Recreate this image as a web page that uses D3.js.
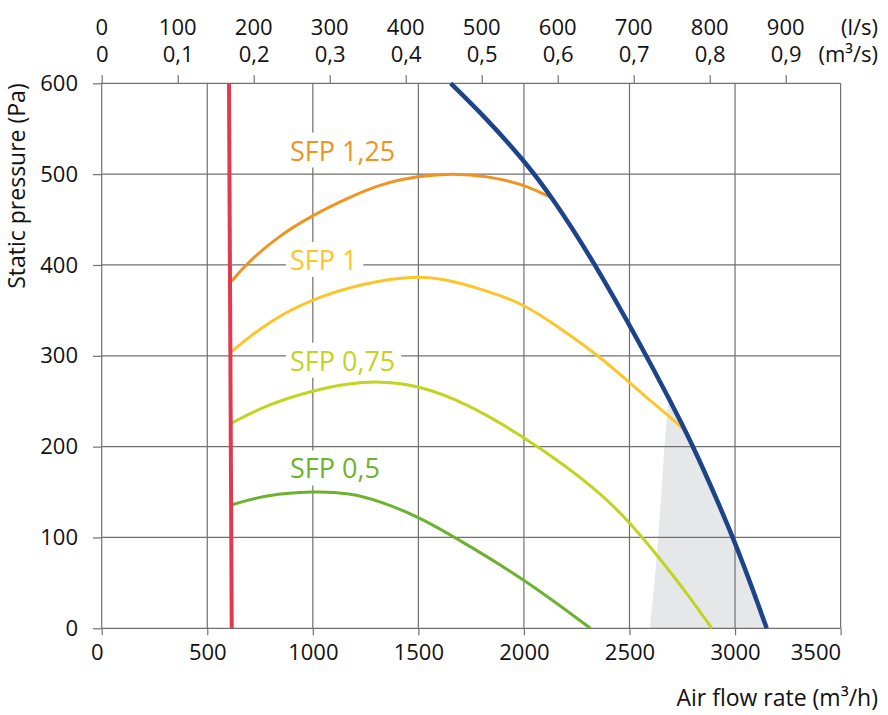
<!DOCTYPE html>
<html>
<head>
<meta charset="utf-8">
<script src="https://cdn.jsdelivr.net/npm/d3@7"></script>
<style>
  html, body { margin: 0; padding: 0; background: #fff; }
  svg { display: block; font-family: "Open Sans", "Noto Sans", sans-serif; }
</style>
</head>
<body>
<div id="chart"></div>
<script>
// Fan chart: static pressure vs air flow rate with SFP curves
const width = 888, height = 715;
const plotLeft = 101.7, plotRight = 840.6, plotTop = 83.3, plotBottom = 628.3;
const tickFont = 22, titleFont = 23, sfpFont = 27;
const gridColor = "#707070";

// axis values
const flowTicks = [0, 500, 1000, 1500, 2000, 2500, 3000, 3500];
const pressureTicks = [0, 100, 200, 300, 400, 500, 600];
const lsTicks = [0, 100, 200, 300, 400, 500, 600, 700, 800, 900];
const lsLabels = ["0", "100", "200", "300", "400", "500", "600", "700", "800", "900"];
const m3sLabels = ["0", "0,1", "0,2", "0,3", "0,4", "0,5", "0,6", "0,7", "0,8", "0,9"];

// series, [flow m3/h, pressure Pa]
const minFlow = [[603, 600], [616, 0]];
const fanCurve = [[1653, 600], [1823, 561], [1997, 516], [2139, 473], [2360, 393],
  [2644, 273], [2763, 218], [2802, 200], [2995, 100], [3150, 0]];
const sfp125 = [[616, 382], [687, 402], [844, 433], [1002, 455], [1160, 473], [1318, 489],
  [1500, 498], [1665, 501], [1823, 498], [1997, 489], [2139, 473]];
const sfp1 = [[616, 305], [797, 339], [1002, 363], [1239, 380], [1476, 388], [1618, 385],
  [1792, 374], [1997, 358], [2186, 328], [2360, 299], [2487, 273], [2597, 251], [2660, 239], [2763, 218]];
const sfp075 = [[616, 226], [781, 246], [1002, 262], [1176, 270], [1318, 272], [1492, 268],
  [1729, 248], [1997, 211], [2202, 178], [2360, 149], [2502, 117], [2660, 72], [2780, 36], [2890, 0]];
const sfp05 = [[616, 136], [781, 147], [1002, 151], [1176, 149], [1318, 140], [1500, 123],
  [1681, 99], [1997, 55], [2315, 0]];
const grayZone = [[2597, 0], [2618, 50], [2636, 101], [2652, 150], [2665, 200], [2680, 240],
  [2692, 258], [2763, 218], [2802, 200], [2995, 100], [3150, 0]];
const sfpNames = ["SFP 1,25", "SFP 1", "SFP 0,75", "SFP 0,5"];

const x = d3.scaleLinear().domain([0, 3500]).range([plotLeft, plotRight]);
const xTop = d3.scaleLinear().domain([0, 3500 / 3.6]).range([plotLeft, plotRight]);
const y = d3.scaleLinear().domain([0, 600]).range([plotBottom, plotTop]);

const svg = d3.select("#chart").append("svg")
  .attr("width", width).attr("height", height)
  .attr("viewBox", `0 0 ${width} ${height}`);

const line = d3.line().x(d => x(d[0])).y(d => y(d[1])).curve(d3.curveBasis);

// shaded zone under the fan curve
svg.append("path").datum(grayZone)
  .attr("d", d3.line().x(d => x(d[0])).y(d => y(d[1]))).attr("fill", "#e6e7e9");

// grid
svg.append("g").selectAll("line").data(flowTicks).join("line")
  .attr("x1", d => x(d)).attr("x2", d => x(d))
  .attr("y1", plotTop).attr("y2", plotBottom)
  .attr("stroke", gridColor).attr("stroke-width", 1.2);
svg.append("g").selectAll("line").data(pressureTicks).join("line")
  .attr("x1", plotLeft).attr("x2", plotRight)
  .attr("y1", d => y(d)).attr("y2", d => y(d))
  .attr("stroke", gridColor).attr("stroke-width", 1.2);

// axes
function styleAxis(g) {
  g.select(".domain").remove();
  g.selectAll("line").attr("stroke", gridColor).attr("stroke-width", 1.2);
  g.selectAll("text").attr("font-size", tickFont).attr("fill", "#111")
    .attr("font-family", "\"Open Sans\", sans-serif");
}

svg.append("g").attr("transform", `translate(0,${plotBottom})`)
  .call(d3.axisBottom(x).tickValues(flowTicks).tickSize(7).tickPadding(9).tickFormat(d3.format("d")))
  .call(styleAxis)
  .call(g => g.selectAll("text")
    .attr("text-anchor", d => d === 3500 ? "end" : "middle")
    .attr("dx", d => d === 0 ? -5 : 0));

svg.append("g").attr("transform", `translate(${plotLeft},0)`)
  .call(d3.axisLeft(y).tickValues(pressureTicks).tickSize(8.7).tickPadding(15).tickFormat(d3.format("d")))
  .call(styleAxis);

svg.append("g").attr("transform", `translate(0,${plotTop})`)
  .call(d3.axisTop(xTop).tickValues(lsTicks).tickSize(8).tickPadding(13)
    .tickFormat((d, i) => m3sLabels[i]))
  .call(styleAxis)
  .call(g => g.selectAll("text").attr("dy", 0));

svg.append("g").selectAll("text").data(lsTicks).join("text")
  .attr("x", d => xTop(d)).attr("y", 35)
  .attr("text-anchor", "middle").attr("font-size", tickFont).attr("fill", "#111")
  .text((d, i) => lsLabels[i]);

svg.append("text").attr("x", 878).attr("y", 35).attr("text-anchor", "end")
  .attr("font-size", tickFont).attr("fill", "#111").text("(l/s)");
svg.append("text").attr("x", 878).attr("y", 62.3).attr("text-anchor", "end")
  .attr("font-size", tickFont).attr("fill", "#111").text("(m³/s)");

// axis titles
svg.append("text").attr("x", 878).attr("y", 706).attr("text-anchor", "end")
  .attr("font-size", titleFont).attr("fill", "#111").text("Air flow rate (m³/h)");
svg.append("text").attr("transform", `translate(25,${plotTop}) rotate(-90)`)
  .attr("text-anchor", "end").attr("font-size", titleFont).attr("fill", "#111")
  .text("Static pressure (Pa)");

// SFP labels with white knock-out behind them
const sfpColors = ["#ef9421", "#fcc52a", "#c2d320", "#6cb22e"];
const labelPos = [[892, 515], [892, 394.5], [892, 283.6], [892, 165]];
const labels = svg.append("g");
sfpNames.forEach((name, i) => {
  const lx = x(labelPos[i][0]), ly = y(labelPos[i][1]);
  const bg = labels.append("rect").attr("fill", "#fff");
  const t = labels.append("text").attr("x", lx).attr("y", ly)
    .attr("font-size", sfpFont).attr("fill", sfpColors[i]).text(name);
  const w = t.node().getComputedTextLength();
  bg.attr("x", lx - 4).attr("y", ly - 28).attr("width", w + 10).attr("height", 35);
});

// curves
[sfp125, sfp1, sfp075, sfp05].forEach((s, i) => {
  svg.append("path").datum(s).attr("d", line)
    .attr("fill", "none").attr("stroke", sfpColors[i]).attr("stroke-width", 3);
});

svg.append("path").datum(minFlow)
  .attr("d", d3.line().x(d => x(d[0])).y(d => y(d[1])))
  .attr("fill", "none").attr("stroke", "#e2394f").attr("stroke-width", 4);

svg.append("path").datum(fanCurve).attr("d", line)
  .attr("fill", "none").attr("stroke", "#1d4489").attr("stroke-width", 4.5);
</script>
</body>
</html>
